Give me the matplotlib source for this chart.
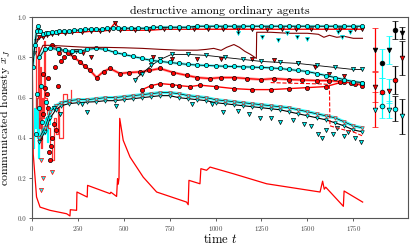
import numpy as np
import matplotlib
matplotlib.use('agg')
import matplotlib.pyplot as plt

plt.rcParams['font.family'] = 'cmr10'
plt.rcParams['mathtext.fontset'] = 'cm'
plt.rcParams['axes.unicode_minus'] = False
plt.rcParams['axes.formatter.use_mathtext'] = True

# ---- traces ----
top_t = [5, 15, 25, 35, 45, 60, 75, 90, 110, 130, 150, 175, 200, 230, 260, 290, 320, 350, 380, 410,
         440, 470, 500, 540, 580, 620, 660, 700, 750, 800, 850, 900, 950, 1000, 1050, 1100, 1150,
         1200, 1250, 1300, 1350, 1400, 1450, 1500, 1550, 1600, 1650, 1700, 1750, 1800]
top_v = [0.75, 0.86, 0.93, 0.955, 0.93, 0.915, 0.92, 0.92, 0.925, 0.925, 0.93, 0.93, 0.93, 0.935,
         0.935, 0.94, 0.94, 0.94, 0.94, 0.945, 0.945, 0.945, 0.945, 0.945, 0.945, 0.945, 0.95, 0.95,
         0.95, 0.95, 0.95, 0.955, 0.955, 0.955, 0.955, 0.955, 0.955, 0.955, 0.955, 0.955, 0.955,
         0.955, 0.955, 0.955, 0.955, 0.955, 0.955, 0.955, 0.955, 0.955]

topred_t = [10, 20, 40, 60, 80, 110, 140, 180, 220, 270, 320, 370, 420, 452, 480, 560, 640, 720,
            800, 880, 960, 1040, 1120, 1200, 1280, 1360, 1440, 1520, 1600, 1680, 1760, 1800]
topred_v = [0.82, 0.88, 0.9, 0.9, 0.91, 0.915, 0.92, 0.92, 0.925, 0.925, 0.93, 0.93, 0.935, 0.972,
            0.935, 0.935, 0.935, 0.94, 0.94, 0.94, 0.94, 0.94, 0.94, 0.94, 0.94, 0.94, 0.94,
            0.94, 0.94, 0.94, 0.94, 0.94]

dark_t = [30, 60, 100, 200, 300, 400, 500, 600, 700, 800, 900, 950, 990, 1030, 1060, 1100, 1130,
          1160, 1190, 1222, 1224, 1300, 1400, 1500, 1560, 1590, 1620, 1660, 1700, 1750, 1800]
dark_v = [0.80, 0.86, 0.86, 0.855, 0.85, 0.85, 0.848, 0.845, 0.84, 0.836, 0.836, 0.84, 0.845,
          0.835, 0.85, 0.864, 0.85, 0.83, 0.815, 0.795, 0.925, 0.925, 0.92, 0.92, 0.915, 0.9, 0.91,
          0.9, 0.905, 0.895, 0.895]
darktri_t = [1124, 1251, 1342, 1387, 1442, 1496, 1669, 1687, 1732]
darktri_v = [0.919, 0.902, 0.886, 0.919, 0.902, 0.89, 0.927, 0.902, 0.924]

mid_t = [40, 70, 100, 140, 180, 220, 260, 300, 350, 400, 450, 500, 550, 600, 650, 700, 750, 800,
         850, 900, 950, 1000, 1050, 1100, 1150, 1200, 1250, 1300, 1350, 1400, 1450, 1500, 1550,
         1600, 1650, 1700, 1750, 1800]
mid_v = [0.80, 0.84, 0.845, 0.84, 0.835, 0.83, 0.83, 0.84, 0.845, 0.84, 0.825, 0.815, 0.805, 0.795,
         0.785, 0.78, 0.775, 0.77, 0.765, 0.762, 0.76, 0.758, 0.756, 0.755, 0.753, 0.752, 0.75,
         0.748, 0.745, 0.74, 0.735, 0.73, 0.72, 0.71, 0.70, 0.69, 0.68, 0.675]

rise_t = [560, 600, 650, 700, 760, 850, 950, 1050, 1150, 1250, 1350, 1450, 1550, 1650, 1750, 1800]
rise_v = [0.69, 0.72, 0.76, 0.79, 0.815, 0.815, 0.81, 0.80, 0.79, 0.78, 0.775, 0.77, 0.76, 0.75,
          0.74, 0.74]

redc_t = [110, 150, 198, 230, 261, 290, 316, 352, 390, 425, 479, 530, 588, 640, 697, 770, 842,
          900, 969, 1030, 1100, 1170, 1250, 1320, 1400, 1470, 1550, 1620, 1680, 1740, 1800]
redc_v = [0.86, 0.84, 0.82, 0.80, 0.778, 0.755, 0.736, 0.70, 0.73, 0.745, 0.72, 0.725, 0.728,
          0.735, 0.745, 0.725, 0.711, 0.70, 0.695, 0.70, 0.70, 0.695, 0.69, 0.695, 0.69, 0.688,
          0.685, 0.685, 0.68, 0.675, 0.672]

redl_t = [600, 650, 700, 760, 800, 860, 915, 1000, 1100, 1200, 1300, 1400, 1500, 1600, 1700, 1760, 1800]
redl_v = [0.64, 0.66, 0.67, 0.665, 0.66, 0.655, 0.662, 0.655, 0.645, 0.64, 0.64, 0.645, 0.65,
          0.655, 0.68, 0.67, 0.66]

drop_t = [1300, 1400, 1500, 1580, 1620, 1623, 1660, 1700, 1750, 1800]
drop_v = [0.675, 0.672, 0.67, 0.668, 0.665, 0.46, 0.45, 0.44, 0.43, 0.41]

low_t = [40, 70, 100, 130, 160, 200, 250, 300, 350, 400, 450, 500, 550, 600, 650, 700, 750, 800,
         850, 900, 950, 1000, 1050, 1100, 1150, 1200, 1250, 1300, 1350, 1400, 1450, 1500, 1550,
         1600, 1650, 1700, 1750, 1800]
low_v = [0.40, 0.45, 0.53, 0.56, 0.575, 0.585, 0.59, 0.59, 0.595, 0.60, 0.60, 0.605, 0.61, 0.615,
         0.62, 0.625, 0.625, 0.62, 0.61, 0.605, 0.60, 0.59, 0.585, 0.58, 0.575, 0.57, 0.565, 0.56,
         0.555, 0.55, 0.54, 0.53, 0.52, 0.51, 0.50, 0.48, 0.46, 0.45]
low2_v = [0.38, 0.43, 0.50, 0.54, 0.56, 0.57, 0.575, 0.578, 0.58, 0.585, 0.585, 0.59, 0.595, 0.60,
          0.605, 0.61, 0.61, 0.60, 0.595, 0.59, 0.585, 0.575, 0.57, 0.565, 0.56, 0.555, 0.55,
          0.545, 0.54, 0.53, 0.52, 0.51, 0.50, 0.49, 0.475, 0.46, 0.44, 0.43]

# scattered triangles of the lower band
scat_t = [120, 155, 270, 300, 460, 870, 980, 1040, 1120, 1180, 1240, 1300, 1350, 1420, 1480,
          1520, 1560, 1580, 1600, 1640, 1660, 1700, 1720, 1760, 1790]
scat_v = [0.55, 0.52, 0.57, 0.53, 0.56, 0.57, 0.57, 0.53, 0.535, 0.52, 0.50, 0.50, 0.48, 0.49,
          0.47, 0.46, 0.42, 0.40, 0.44, 0.42, 0.45, 0.41, 0.43, 0.40, 0.38]
scatr_t = [210, 240, 280, 320, 660, 760, 900, 1030, 1200, 1320, 1450, 1540, 1620, 1700]
scatr_v = [0.82, 0.83, 0.82, 0.80, 0.80, 0.79, 0.79, 0.79, 0.79, 0.785, 0.77, 0.75, 0.72, 0.71]

# early transient
early_r_t = [20, 22, 30, 32, 40, 45, 50, 55, 60, 65, 70, 80, 90, 100, 110, 120, 130, 140, 150,
             170, 190, 210]
early_r_v = [0.95, 0.55, 0.6, 0.85, 0.45, 0.75, 0.35, 0.6, 0.5, 0.88, 0.6, 0.52, 0.45, 0.36, 0.29,
             0.5, 0.42, 0.55, 0.4, 0.62, 0.58, 0.64]
early_c_t = [5, 10, 15, 20, 25, 30, 35, 40, 50, 60, 70, 80, 90, 100, 120]
early_c_v = [0.35, 0.55, 0.45, 0.6, 0.4, 0.55, 0.3, 0.5, 0.45, 0.42, 0.5, 0.38, 0.47, 0.55, 0.57]
early_rc_t = [100, 95, 110, 120, 105, 130, 80, 60, 70, 140, 150, 160, 175, 90, 60, 45, 125, 85]
early_rc_v = [0.29, 0.33, 0.40, 0.47, 0.36, 0.44, 0.62, 0.72, 0.65, 0.66, 0.82, 0.78, 0.80, 0.55,
              0.52, 0.40, 0.75, 0.70]
early_cc_t = [40, 55, 65, 50, 30, 75, 85, 20]
early_cc_v = [0.55, 0.48, 0.44, 0.66, 0.62, 0.58, 0.50, 0.42]
early_tri_t = [50, 60, 110, 50]
early_tri_v = [0.14, 0.20, 0.23, 0.29]

# the lowest (red) curve
base_t = [0, 7, 25, 44, 98, 189, 207, 209, 243, 245, 301, 303, 425, 430, 461, 466, 470, 474, 478,
          497, 534, 606, 679, 842, 851, 855, 915, 920, 951, 970, 1096, 1278, 1569, 1583, 1592, 1600,
          1696, 1700, 1801]
base_v = [0.95, 0.32, 0.106, 0.056, 0.04, 0.023, 0.012, 0.043, 0.04, 0.131, 0.106, 0.164, 0.123,
          0.13, 0.109, 0.197, 0.17, 0.20, 0.497, 0.388, 0.305, 0.205, 0.131, 0.081, 0.068, 0.189,
          0.172, 0.247, 0.239, 0.255, 0.222, 0.172, 0.131, 0.185, 0.145, 0.155, 0.06, 0.136, 0.081]

# summary columns at the right: mean and spread
summary_t = [1868, 1906, 1944, 1977, 2015]
summary_colors = ['red', 'cyan', 'cyan', 'k', 'k']
summary_markers = ['v', 'o', 'v', 'o', 'v']
summary_v = [[0.839, 0.653, 0.541], [0.77, 0.628, 0.559], [0.835, 0.633, 0.541],
             [0.935, 0.687, 0.546], [0.922, 0.797, 0.507]]
summary_err = [[0.105, 0.075, 0.087], [0.071, 0.07, 0.058], [0.07, 0.06, 0.04],
               [0.045, 0.07, 0.063], [0.03, 0.085, 0.086]]
summary_face = ['k', 'red', 'cyan']

fig = plt.figure(figsize=(4.15, 2.49), dpi=100)
ax = fig.add_axes([0.077, 0.123, 0.907, 0.808])

ms = 3.0
ax.plot(early_c_t, early_c_v, '-', c='cyan', lw=0.9, drawstyle='steps-post')
ax.plot(early_r_t, early_r_v, '-', c='red', lw=0.9, drawstyle='steps-post', alpha=0.8)
ax.plot(early_cc_t, early_cc_v, 'o', ms=ms, mfc='cyan', mec='k', mew=0.5)
ax.plot(early_rc_t, early_rc_v, 'o', ms=ms, mfc='red', mec='k', mew=0.5)

ax.plot(low_t, low2_v, '-v', c='k', lw=0.8, ms=2.6, mfc='cyan', mec='k', mew=0.4)
ax.plot(low_t, low_v, '-', c='cyan', lw=2.4, alpha=0.7)
ax.plot(low_t, low_v, '-v', c='k', lw=0.5, ms=2.6, mfc='cyan', mec='red', mew=0.4)
ax.plot(scat_t, scat_v, 'v', ms=ms, mfc='cyan', mec='k', mew=0.5)

ax.plot(redl_t, redl_v, '-o', c='red', lw=1.0, ms=ms, mfc='red', mec='k', mew=0.5)
ax.plot(drop_t, drop_v, '--', c='red', lw=0.8)
ax.plot(redc_t, redc_v, '-', c='red', lw=2.0, alpha=0.4)
ax.plot(redc_t, redc_v, '-o', c='red', lw=0.9, ms=ms, mfc='red', mec='k', mew=0.5)
ax.plot(scatr_t, scatr_v, 'v', ms=ms, mfc='red', mec='k', mew=0.5)

ax.plot(rise_t, rise_v, '-v', c='k', lw=0.6, ms=ms, mfc='cyan', mec='k', mew=0.5)
ax.plot(mid_t, mid_v, '-', c='cyan', lw=2.0, alpha=0.6)
ax.plot(mid_t, mid_v, '-o', c='k', lw=0.6, ms=ms, mfc='cyan', mec='k', mew=0.5)

ax.plot(dark_t, dark_v, '-', c='#800000', lw=0.8)
ax.plot(darktri_t, darktri_v, 'v', ms=ms, mfc='k', mec='cyan', mew=0.5)

ax.plot(topred_t, topred_v, '-v', c='red', lw=1.0, ms=ms, mfc='red', mec='k', mew=0.5)
ax.plot(top_t, top_v, '-', c='cyan', lw=2.0, alpha=0.6)
ax.plot(top_t, top_v, '-o', c='k', lw=0.7, ms=ms, mfc='cyan', mec='k', mew=0.5)

ax.plot(early_tri_t, early_tri_v, 'v', ms=ms, mfc='cyan', mec='red', mew=0.5)
ax.plot(base_t, base_v, '-', c='red', lw=0.9)

for t, col, mk, vals, errs in zip(summary_t, summary_colors, summary_markers, summary_v, summary_err):
    for v, e, fc in zip(vals, errs, summary_face):
        ax.errorbar(t, v, yerr=e, fmt=mk, ms=3.4, mfc=fc, mec='k', mew=0.5,
                    ecolor=col, elinewidth=0.9, capsize=2.2, capthick=0.9)

ax.set_xlim(0, 2050)
ax.set_ylim(0, 1)
ax.set_xticks([0, 250, 500, 750, 1000, 1250, 1500, 1750])
ax.set_yticks([0.0, 0.2, 0.4, 0.6, 0.8, 1.0])
ax.set_yticklabels(['0.0', '0.2', '0.4', '0.6', '0.8', '1.0'])
ax.tick_params(labelsize=5, length=2, width=0.6, colors='#444444', pad=2)
for s in ax.spines.values():
    s.set_color('#555555')
    s.set_linewidth(0.8)

ax.set_title('destructive among ordinary agents', fontsize=8.5, pad=2)
ax.set_xlabel('time $t$', fontsize=9, labelpad=0)
ax.set_ylabel(r'communicated honesty $\overline{x}_J$', fontsize=8.5, labelpad=3)

plt.savefig('out.png')
